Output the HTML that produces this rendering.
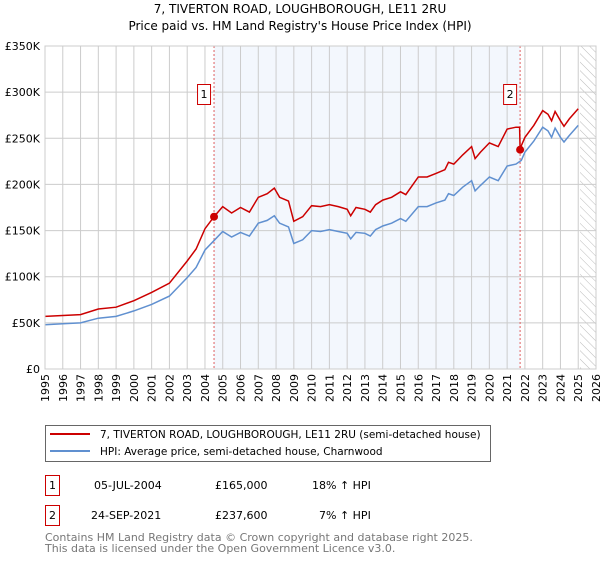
<!DOCTYPE html>
<html><head><meta charset="utf-8"><style>
body{margin:0;background:#fff;font-family:"DejaVu Sans","Liberation Sans",sans-serif;}
</style></head><body>
<svg id="c" width="600" height="560" xmlns="http://www.w3.org/2000/svg" font-family="DejaVu Sans, Liberation Sans, sans-serif">
<text x="300" y="13" text-anchor="middle" font-size="12">7, TIVERTON ROAD, LOUGHBOROUGH, LE11 2RU</text>
<text x="300" y="30" text-anchor="middle" font-size="12">Price paid vs. HM Land Registry's House Price Index (HPI)</text>
<g id="plot"></g>
<g>
<rect x="45.5" y="425.5" width="445" height="36" fill="#fff" stroke="#666"/>
<line x1="50" y1="434" x2="90" y2="434" stroke="#cc0000" stroke-width="2"/>
<text x="100" y="438" font-size="10.5">7, TIVERTON ROAD, LOUGHBOROUGH, LE11 2RU (semi-detached house)</text>
<line x1="50" y1="451" x2="90" y2="451" stroke="#6090d0" stroke-width="2"/>
<text x="100" y="455" font-size="10.5">HPI: Average price, semi-detached house, Charnwood</text>
</g>
<g font-size="11">
<rect x="45.5" y="475.5" width="14" height="20" fill="#fff" stroke="#cc0000"/>
<text x="52.5" y="489" text-anchor="middle">1</text>
<text x="94" y="489">05-JUL-2004</text><text x="215" y="489">£165,000</text><text x="312" y="489">18% ↑ HPI</text>
<rect x="45.5" y="505.5" width="14" height="20" fill="#fff" stroke="#cc0000"/>
<text x="52.5" y="519" text-anchor="middle">2</text>
<text x="91" y="519">24-SEP-2021</text><text x="215" y="519">£237,600</text><text x="319" y="519">7% ↑ HPI</text>
</g>
<text font-size="11" fill="#777"><tspan x="45" y="541">Contains HM Land Registry data © Crown copyright and database right 2025.</tspan><tspan x="45" y="552">This data is licensed under the Open Government Licence v3.0.</tspan></text>
</svg>
<script>
const hpiYears=[1995,1996,1997,1998,1999,2000,2001,2002,2003,2003.5,2004,2004.5,2005,2005.5,2006,2006.5,2007,2007.5,2007.9,2008.2,2008.7,2009,2009.5,2010,2010.5,2011,2011.5,2012,2012.2,2012.5,2013,2013.3,2013.6,2014,2014.5,2015,2015.3,2016,2016.5,2017,2017.5,2017.7,2018,2018.5,2019,2019.2,2019.5,2020,2020.5,2021,2021.5,2021.8,2022,2022.5,2023,2023.3,2023.5,2023.7,2024,2024.2,2024.5,2025];
const hpiValues=[48,49,50,55,57,63,70,79,99,110,129,139,149,143,148,144,158,161,166,158,154,136,140,150,149,151,149,147,141,148,147,144,151,155,158,163,160,176,176,180,183,190,188,197,204,193,199,208,204,220,222,226,235,247,262,258,251,261,251,246,253,264];
const priceYears=[1995,1996,1997,1998,1999,2000,2001,2002,2003,2003.5,2004,2004.51,2005,2005.5,2006,2006.5,2007,2007.5,2007.9,2008.2,2008.7,2009,2009.5,2010,2010.5,2011,2011.5,2012,2012.2,2012.5,2013,2013.3,2013.6,2014,2014.5,2015,2015.3,2016,2016.5,2017,2017.5,2017.7,2018,2018.5,2019,2019.2,2019.5,2020,2020.5,2021,2021.5,2021.7,2021.73,2021.8,2022,2022.5,2023,2023.3,2023.5,2023.7,2024,2024.2,2024.5,2025];
const priceValues=[57,58,59,65,67,74,83,93,117,130,152,165,176,169,175,170,186,190,196,186,182,160,165,177,176,178,176,173,166,175,173,170,178,183,186,192,189,208,208,212,216,224,222,232,241,228,235,245,241,260,262,262,237.6,242,251,264,280,276,269,279,269,263,271,282];
const saleYears=[2004.51,2021.73];
const saleValues=[165,237.6];
const saleLabels=["1","2"];
const yTicks=[0,50,100,150,200,250,300,350];
const yTickLabels=["£0","£50K","£100K","£150K","£200K","£250K","£300K","£350K"];
const xStart=1995,xEnd=2026;
const L=45,R=596,T=46,B=369;
const X=y=>L+(y-xStart)/(xEnd-xStart)*(R-L);
const Y=v=>B-v/350*(B-T);
const NS="http://www.w3.org/2000/svg";
const g=document.getElementById('plot');
function mk(t,a,p){const e=document.createElementNS(NS,t);for(const k in a)e.setAttribute(k,a[k]);(p||g).appendChild(e);return e;}
const defs=mk('defs',{});
const pat=mk('pattern',{id:'hatch',width:6,height:6,patternUnits:'userSpaceOnUse',patternTransform:'rotate(-45)'},defs);
mk('line',{x1:0,y1:0,x2:0,y2:6,stroke:'#bbb','stroke-width':1},pat);
let e=mk('rect',{x:L,y:T,width:R-L,height:B-T,fill:'#fff'});

e=mk('rect',{x:X(saleYears[0]),y:T,width:X(saleYears[1])-X(saleYears[0]),height:B-T,fill:'#eef3fc',opacity:0.7});

e=mk('rect',{x:X(2025.1),y:T,width:R-X(2025.1),height:B-T,fill:'url(#hatch)'});

for(let yr=xStart;yr<=xEnd;yr++){
 e=mk('line',{x1:X(yr),y1:T,x2:X(yr),y2:B,stroke:'#ccc','stroke-width':1});
 
 const tx=X(yr)+4,ty=B+5;
 e=mk('text',{x:tx,y:ty,'font-size':11,'text-anchor':'end',transform:`rotate(-90 ${tx} ${ty})`});
 e.textContent=yr;
 
}
yTicks.forEach((v,i)=>{
 e=mk('line',{x1:L,y1:Y(v),x2:R,y2:Y(v),stroke:'#ccc','stroke-width':1});
 
 e=mk('text',{x:L-5,y:Y(v)+4,'font-size':11,'text-anchor':'end'});
 e.textContent=yTickLabels[i];
 
});
saleYears.forEach((yr,i)=>{
 e=mk('line',{x1:X(yr),y1:T,x2:X(yr),y2:B,stroke:'#e06060','stroke-width':1,'stroke-dasharray':'2,2'});
 
});
function path(xs,vs,col,name){
 let d=xs.map((x,i)=>(i?'L':'M')+X(x).toFixed(1)+','+Y(vs[i]).toFixed(1)).join('');
 const p=mk('path',{d:d,fill:'none',stroke:col,'stroke-width':1.5});
 
}
path(hpiYears,hpiValues,'#6090d0','hpi-line');
path(priceYears,priceValues,'#cc0000','price-line');
saleYears.forEach((yr,i)=>{
 e=mk('circle',{cx:X(yr),cy:Y(saleValues[i]),r:4,fill:'#cc0000'});
 
 const bx=X(yr)-11-6;
 e=mk('rect',{x:bx+0.5,y:84.5,width:13,height:20,fill:'#fff',stroke:'#cc0000'});
 
 e=mk('text',{x:bx+7,y:98,'font-size':11,'text-anchor':'middle'});
 e.textContent=saleLabels[i];
 
});
e=mk('rect',{x:L,y:T,width:R-L,height:B-T,fill:'none',stroke:'#ccc'});

</script>
</body></html>
